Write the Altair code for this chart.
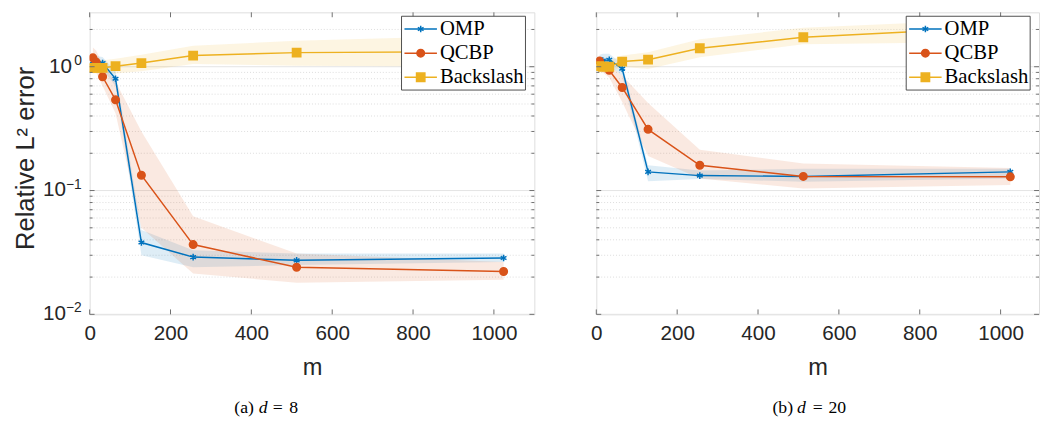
import altair as alt
import pandas as pd

# ---------------- data ----------------
m_values = [8, 16, 32, 64, 128, 256, 512, 1024]
series_names = ["OMP", "QCBP", "Backslash"]
series_colors = ["#0072BD", "#D95319", "#EDB120"]

# panel (a): d = 8
omp_d8 = [1.10, 1.08, 1.07, 0.80, 0.038, 0.029, 0.0273, 0.0285]
omp_d8_lo = [0.95, 0.95, 0.95, 0.70, 0.030, 0.024, 0.025, 0.0265]
omp_d8_hi = [1.22, 1.22, 1.20, 0.92, 0.048, 0.033, 0.031, 0.031]
qcbp_d8 = [1.18, 1.09, 0.83, 0.54, 0.133, 0.0366, 0.024, 0.0222]
qcbp_d8_lo = [0.95, 0.90, 0.70, 0.42, 0.050, 0.0214, 0.018, 0.019]
qcbp_d8_hi = [1.43, 1.35, 1.05, 0.76, 0.30, 0.062, 0.031, 0.0265]
bs_d8 = [0.98, 0.98, 0.98, 1.01, 1.07, 1.23, 1.30, 1.33]
bs_d8_lo = [0.88, 0.88, 0.88, 0.88, 0.92, 1.05, 1.02, 1.00]
bs_d8_hi = [1.12, 1.12, 1.13, 1.16, 1.25, 1.48, 1.62, 1.80]

# panel (b): d = 20
omp_d20 = [1.11, 1.12, 1.14, 0.965, 0.1415, 0.132, 0.130, 0.1415]
omp_d20_lo = [1.00, 1.00, 1.02, 0.85, 0.119, 0.124, 0.118, 0.125]
omp_d20_hi = [1.25, 1.27, 1.27, 1.05, 0.160, 0.145, 0.150, 0.150]
qcbp_d20 = [1.11, 1.00, 0.935, 0.68, 0.312, 0.160, 0.130, 0.129]
qcbp_d20_lo = [0.98, 0.90, 0.82, 0.52, 0.19, 0.125, 0.104, 0.111]
qcbp_d20_hi = [1.22, 1.12, 1.03, 0.85, 0.51, 0.214, 0.165, 0.152]
bs_d20 = [1.01, 1.00, 1.00, 1.10, 1.14, 1.41, 1.73, 2.10]
bs_d20_lo = [0.90, 0.90, 0.90, 1.00, 0.96, 1.19, 1.52, 1.59]
bs_d20_hi = [1.12, 1.12, 1.12, 1.23, 1.31, 1.67, 2.06, 2.44]

x_ticks = [0, 200, 400, 600, 800, 1000]
y_major = [0.01, 0.1, 1]
y_major_exp = ["\u22122", "\u22121", "0"]
y_minor = [0.02, 0.03, 0.04, 0.05, 0.06, 0.07, 0.08, 0.09,
           0.2, 0.3, 0.4, 0.5, 0.6, 0.7, 0.8, 0.9, 2]
captions = ["(a)", "(b)"]
d_values = ["8", "20"]

# ---------------- styling ----------------
SANS = "Liberation Sans"
SERIF = "Liberation Serif"
TXT = "#262626"
FRAME = "#6e6e6e"
H = 307
YMAX = 2.75
ASTERISK = "M0,-1L0,1M-0.87,-0.5L0.87,0.5M-0.87,0.5L0.87,-0.5"

color_scale = alt.Scale(domain=series_names, range=series_colors)
shape_scale = alt.Scale(domain=series_names, range=[ASTERISK, "circle", "square"])
size_scale = alt.Scale(domain=series_names, range=[45, 72, 56])


def long_df(sets):
    rows = []
    for name, (v, lo, hi) in zip(series_names, sets):
        for m, a, b, c in zip(m_values, v, lo, hi):
            rows.append({"m": m, "series": name, "value": a, "lo": b, "hi": c})
    return pd.DataFrame(rows)


df_a = long_df([(omp_d8, omp_d8_lo, omp_d8_hi),
                (qcbp_d8, qcbp_d8_lo, qcbp_d8_hi),
                (bs_d8, bs_d8_lo, bs_d8_hi)])
df_b = long_df([(omp_d20, omp_d20_lo, omp_d20_hi),
                (qcbp_d20, qcbp_d20_lo, qcbp_d20_hi),
                (bs_d20, bs_d20_lo, bs_d20_hi)])


def panel(df, idx, W, xmax, show_y, cap_x):
    xscale = alt.Scale(domain=[0, xmax], nice=False, zero=False)
    yscale = alt.Scale(type="log", domain=[0.01, YMAX], nice=False)
    xaxis = alt.Axis(values=x_ticks, format="d", labelFont=SANS, labelFontSize=21,
                     labelColor=TXT, ticks=False, domain=False, grid=False,
                     labelPadding=9, titleFont=SANS, titleFontSize=24,
                     titleFontWeight="normal", titleColor=TXT, titlePadding=12,
                     labelFlush=False)
    if show_y:
        yaxis = alt.Axis(values=y_major, labels=False, ticks=False,
                         domain=False, grid=False,
                         titleFont=SANS, titleFontSize=26,
                         titleFontWeight="normal", titleColor=TXT,
                         titlePadding=52, titleY=148)
        ytitle = "Relative L\u00b2 error"
    else:
        yaxis = alt.Axis(values=y_major, labels=False, ticks=False,
                         domain=False, grid=False)
        ytitle = None

    def X(field):
        return alt.X(field, scale=xscale, axis=xaxis, title="m")

    def Y(field):
        return alt.Y(field, scale=yscale, axis=yaxis, title=ytitle)

    layers = []
    # grid
    grid_major = alt.Chart(pd.DataFrame({"v": y_major})).mark_rule(
        color="#e3e3e3", strokeWidth=1).encode(y=Y("v:Q"))
    grid_minor = alt.Chart(pd.DataFrame({"v": y_minor})).mark_rule(
        color="#d4d4d4", strokeWidth=0.8, strokeDash=[1, 2]).encode(y=Y("v:Q"))
    layers += [grid_major, grid_minor]

    base = alt.Chart(df)
    bands = base.mark_area(opacity=0.13, clip=True).encode(
        x=X("m:Q"), y=Y("lo:Q"), y2="hi:Q",
        fill=alt.Fill("series:N", scale=color_scale, legend=None))
    layers.append(bands)

    for name in series_names:
        sub = base.transform_filter(alt.datum.series == name)
        line = sub.mark_line(strokeWidth=1.5, clip=True).encode(
            x=X("m:Q"), y=Y("value:Q"),
            stroke=alt.Stroke("series:N", scale=color_scale, legend=None))
        pts = sub.mark_point(opacity=1, strokeWidth=1.5, clip=True).encode(
            x=X("m:Q"), y=Y("value:Q"),
            stroke=alt.Stroke("series:N", scale=color_scale, legend=None),
            fill=alt.Fill("series:N", scale=color_scale, legend=None),
            shape=alt.Shape("series:N", scale=shape_scale, legend=None),
            size=alt.Size("series:N", scale=size_scale, legend=None))
        layers += [line, pts]

    # inward ticks (box style)
    xt = alt.Chart(pd.DataFrame({"t": x_ticks}))
    layers.append(xt.mark_rule(color=FRAME).encode(
        x=X("t:Q"), y=alt.value(H), y2=alt.value(H - 5)))
    layers.append(xt.mark_rule(color=FRAME).encode(
        x=X("t:Q"), y=alt.value(0), y2=alt.value(5)))
    ymj = alt.Chart(pd.DataFrame({"v": y_major, "exp": y_major_exp}))
    ymn = alt.Chart(pd.DataFrame({"v": y_minor}))
    layers.append(ymj.mark_rule(color=FRAME).encode(
        y=Y("v:Q"), x=alt.value(0), x2=alt.value(5)))
    layers.append(ymj.mark_rule(color=FRAME).encode(
        y=Y("v:Q"), x=alt.value(W - 5), x2=alt.value(W)))
    layers.append(ymn.mark_rule(color=FRAME).encode(
        y=Y("v:Q"), x=alt.value(0), x2=alt.value(3)))
    layers.append(ymn.mark_rule(color=FRAME).encode(
        y=Y("v:Q"), x=alt.value(W - 3), x2=alt.value(W)))

    # y tick labels 10^k with real-size exponents
    if show_y:
        lab = ymj.transform_calculate(
            bx="datum.exp == '0' ? -18 : -24")
        layers.append(lab.mark_text(font=SANS, fontSize=21, align="right",
                                    baseline="middle", color=TXT).encode(
            x=alt.X("bx:Q", scale=None), y=Y("v:Q"), text=alt.value("10")))
        layers.append(ymj.mark_text(font=SANS, fontSize=14, align="right",
                                    baseline="middle", color=TXT, dy=-6).encode(
            x=alt.value(-8), y=Y("v:Q"), text="exp:N"))

    # legend box (inside, top right)
    lx0 = W - 135
    leg_box = alt.Chart(alt.Data(values=[{"k": 1}])).mark_rect(
        fill="white", stroke="#3a3a3a", strokeWidth=0.9).encode(
        x=alt.value(lx0), x2=alt.value(lx0 + 126),
        y=alt.value(4), y2=alt.value(79))
    layers.append(leg_box)
    leg = alt.Chart(pd.DataFrame({"series": series_names,
                                  "row": list(range(len(series_names)))})
                    ).transform_calculate(py="17 + 24.5 * datum.row")
    layers.append(leg.mark_rule(strokeWidth=1.5).encode(
        x=alt.value(lx0 + 3), x2=alt.value(lx0 + 36),
        y=alt.Y("py:Q", scale=None),
        color=alt.Color("series:N", scale=color_scale, legend=None)))
    layers.append(leg.mark_point(opacity=1, strokeWidth=1.5).encode(
        x=alt.value(lx0 + 19.5), y=alt.Y("py:Q", scale=None),
        stroke=alt.Stroke("series:N", scale=color_scale, legend=None),
        fill=alt.Fill("series:N", scale=color_scale, legend=None),
        shape=alt.Shape("series:N", scale=shape_scale, legend=None),
        size=alt.Size("series:N", scale=size_scale, legend=None)))
    layers.append(leg.mark_text(font=SERIF, fontSize=21, align="left",
                                baseline="middle", color="black").encode(
        x=alt.value(lx0 + 39), y=alt.Y("py:Q", scale=None), text="series:N"))

    # caption below the panel
    cap = alt.Chart(pd.DataFrame({"cap": [captions[idx]], "d": [d_values[idx]]}))
    cy = 402
    layers.append(cap.mark_text(font=SERIF, fontSize=18, align="left",
                                baseline="middle", color="black").encode(
        x=alt.value(cap_x[0]), y=alt.value(cy), text="cap:N"))
    layers.append(cap.mark_text(font=SERIF, fontSize=18, align="left",
                                baseline="middle", fontStyle="italic",
                                color="black").encode(
        x=alt.value(cap_x[1]), y=alt.value(cy), text=alt.value("d")))
    layers.append(cap.mark_text(font=SERIF, fontSize=18, align="left",
                                baseline="middle", color="black").encode(
        x=alt.value(cap_x[2]), y=alt.value(cy), text=alt.value("=")))
    layers.append(cap.mark_text(font=SERIF, fontSize=18, align="left",
                                baseline="middle", color="black").encode(
        x=alt.value(cap_x[3]), y=alt.value(cy), text="d:N"))

    return alt.layer(*layers).properties(width=W, height=H)


left = panel(df_a, 0, 452, 1100, True, [147, 172, 186, 203])
right = panel(df_b, 1, 450, 1095, False, [179, 204, 220, 236])

chart = alt.hconcat(left, right, spacing=55).properties(
    padding={"left": 4, "top": 0, "right": 0, "bottom": 0}
).configure_view(stroke=FRAME, strokeWidth=1).configure(background="white")

chart.save("out.html", embed_options={"renderer": "svg", "actions": False})
